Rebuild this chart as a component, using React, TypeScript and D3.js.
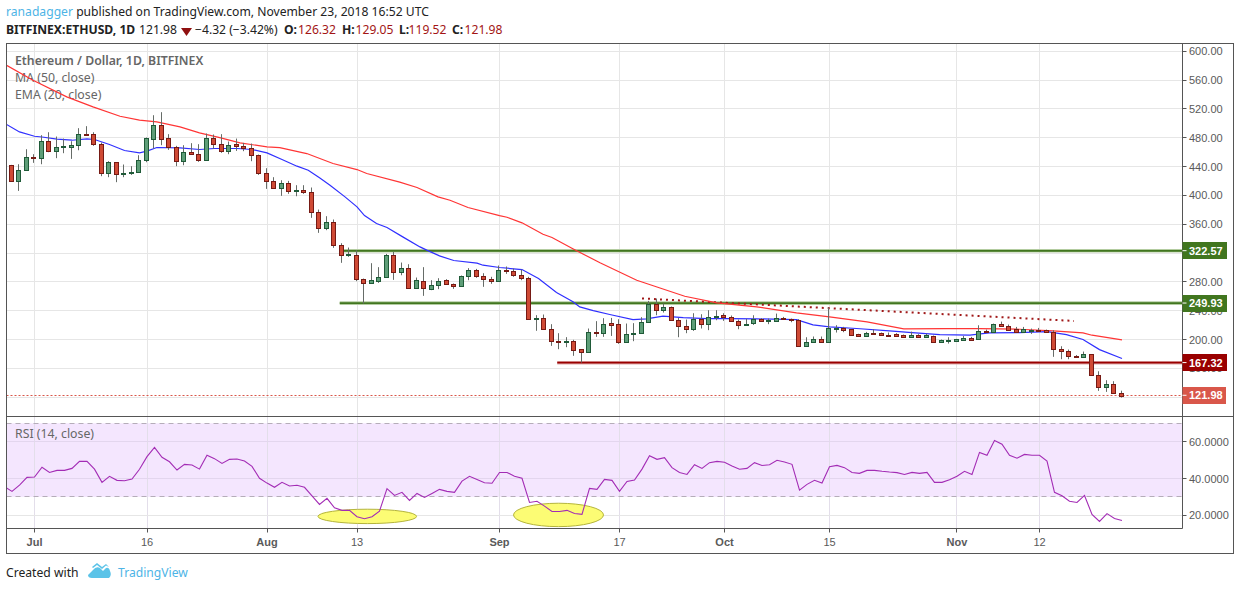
import React from "react";
import * as d3 from "d3";

const opens = [441.8,420.1,435.4,453.9,452,476,461.7,467.3,467.3,470.1,485.8,485.8,471.9,431.2,445.6,430.3,431.7,432.6,449.2,478.4,498.3,478.9,467.7,447.9,460.8,458,449.2,478.9,471.9,461.7,471,469.1,466.4,456.6,431.7,420.6,410.4,417.8,406.7,408.1,405.3,377.6,354.9,363.7,331.8,317.4,317.9,284.6,279.1,281.4,287.4,317.9,294.3,299.9,270.8,281.4,270.3,275.9,281.9,277.7,274.5,288.8,295.8,288.8,284.6,281.4,296.2,295.3,290.2,286,228.7,230.5,215.3,197.7,196.8,198.6,186.2,182.9,211.1,209.2,222.6,221.3,196.3,207.9,209.2,224,249,241.1,245.8,227.7,219.4,214.3,229.1,221.7,231.4,233.7,231.9,226.3,220.3,223.1,229.1,225.9,225.9,230.5,229.1,227.3,191.2,196.8,201.4,196.3,214.3,215.7,214.3,207.4,205.5,208.8,208.8,206.9,207.4,206,204.1,206.4,204.1,205.5,196.7,198.6,198.1,199.5,202.3,200.4,212.4,210.6,221.2,219.4,214.3,211,212,213.4,213.8,211,187.5,184.7,177.8,175.9,179.6,151,134.8,139,126.32];
const highs = [442.3,443.2,464,457.1,483.5,487.6,481.6,478.8,475.1,493.2,496,487.6,473.3,447.4,445.6,442.8,440.5,455.7,480.2,511.2,515.4,484.9,468.7,469.6,472.4,471,485.8,484.4,484.9,474.7,478.8,472.8,471.9,456.6,437.7,425.2,421,420.1,414.1,414.1,410.9,380.3,371.1,366.5,333.6,327.6,323.9,284.6,305.9,300.4,318.8,321.6,306.8,304.5,286,300.4,282.3,285.1,283.7,277.7,288.8,299,298,292,287,302.7,301.3,298.5,297,287,233.8,234.7,221.3,208.8,203.3,199.6,186.2,215.3,225.5,229.6,230,228.2,222.2,222.7,231,253.6,256.9,250,245.8,230,227.7,236.5,235.1,240.7,240.7,236.5,233.3,227.7,228.7,233.7,229.6,229.1,236,231.4,229.1,228.2,203.2,204.2,204.2,244.4,219.9,217.6,214.3,208,210.6,214.3,209.7,209.7,208.8,206.9,211,207.4,208,205.5,200,203.2,200.9,205,203.7,219.8,213.8,222.1,224.9,220.8,217.5,217.5,215.2,216.1,213.8,212.9,190.7,186.1,178.5,183.3,179.6,156,143.6,142.2,129.05];
const lows = [418.7,406.2,435.4,445.1,443.2,459.9,451.6,458.5,450.6,462.6,483,468.7,426.6,425.2,418.3,425.2,428.4,432.6,446,465,469.6,463.1,440.5,441.8,456.2,446.5,449.2,464.5,459,457.1,461.7,461.3,447.4,428.4,409,409,399.3,402.1,398.8,402.1,368.8,348,351.7,327.2,306.4,314.7,281,250,279.1,278.6,287.4,282.8,289.2,270.8,270.8,260.6,268.5,269.9,276.8,270.3,273.1,282.3,285.6,273.1,277.3,281.4,291.1,287,282.3,227.3,212.1,215.3,191.2,186.6,189.4,177.4,168,182.9,203.7,203.7,205,194,196.3,197.7,209.2,223.1,233.7,237.4,225.9,203.2,208.8,212,215.3,213,226.8,225.9,225,214.3,220.3,220.3,224.5,221.3,225.9,227.3,224,189.8,191.2,196.8,195.4,196.3,209.7,210.2,205,204,204.6,207.9,206.5,203.7,204.6,203.2,204.1,203.2,203.2,196.7,196.7,194.4,198.1,199,198.6,200.4,209.2,210.6,218.9,212.9,210.6,209.7,207.8,210.6,210.6,176,172.7,172.7,175.5,175.9,149.6,128.8,127.4,126.4,119.52];
const closes = [420.1,435.8,453.9,452,476,461.7,467.7,468.2,470.5,485.8,484.9,471.4,431.7,445.6,429.8,431.7,433,449.7,478.9,498.3,478.4,467.3,447.9,460.8,457.6,449.2,478.9,471.4,461.7,470.5,468.7,465.9,456.2,431.7,420.1,410.4,417.8,406.7,408.1,404.8,377.6,354.9,363.7,331.8,317.9,318.4,284.6,279.1,281.9,287.4,317.9,294.3,299.9,270.8,281.9,270.8,276.3,281.4,277.7,274.9,288.8,295.8,288.8,284.2,281.4,295.8,295.3,290.2,285.6,228.7,230.5,215.3,197.3,196.8,197.7,185.7,182.9,211.1,209.3,222.2,220.8,196.3,208.3,209.7,225,249,241.1,245.8,226.8,218.9,214.3,229.1,221.7,231.9,233.3,231.4,225.9,220.3,222.2,229.1,225.9,227.3,230.5,228.2,227.3,191.2,197.2,201.4,196.3,215.7,215.7,213.4,206.9,205,208.8,207.9,206.5,206,205.5,204.1,206.4,204.1,206.4,196.7,199,200,200.4,202.7,200,212.4,210.6,221.2,218.9,213.8,211,214.3,212.9,212.4,211,187,184.7,177.3,175.9,179.6,151,134.8,139,126.4,121.98];
// rsiValues[0] is the value one day before the first candle, running in from the left edge
const rsiValues = [35.5,33,36.4,40.6,40.8,46.1,43.3,44.4,44.4,45.5,49.3,49.3,45.1,37.9,41.2,39,38.8,39.7,45,51.9,56.9,51.5,49.1,44.6,47.7,47.3,45.1,52.6,50.8,48.2,50.4,50.6,49.5,46.6,40.1,37.5,35.2,37.9,35.9,36.3,35.2,30.5,25.9,29.2,24.1,22.7,22.7,19.2,18.1,19.2,22.3,34.5,30.8,32.5,28.1,31.9,29.7,31.9,34.1,33,32.5,38.6,41.2,39.5,37.7,37.4,43.3,43.3,41.2,40.1,27,27.6,25,22.1,22.1,22.7,21,20.5,34.6,34.1,39.5,39,33,38.4,39.2,45.1,52.4,50.4,51.3,45.9,43.3,42.2,47.5,45.5,48.6,49.3,48.8,46.8,45,45.5,48.6,47.1,47.5,49.9,49,47.7,33.7,36.8,39,37.5,46.4,47.1,45.9,43.3,42.8,44.4,44.4,43.9,43.5,43.2,42.2,43.3,42.8,43.3,37.9,37.9,39.3,41.2,43.9,42.2,54.2,52.6,60.7,58.6,52.6,51,53.1,52.6,52.6,49.5,32.5,30.6,27.6,27,30.8,20.5,16.7,20.9,18.3,17.2];

const maDays = [0,3.8,8.3,11.8,15.4,18,20.3,23.4,26,28.7,31.4,35,36.7,40.3,43.8,47,48.3,52.7,55,57.8,59.4,61.8,66,67,69,71.8,73,75.9,79.4,84.3,90.7,95,100.3,105.6,110,115,119.9,125.6,130,135.3,139.8,143.8,145,149];
const maValues = [582,559.8,536.6,522.8,509.8,504.3,502,495,486.7,480.2,472.8,467.3,466.3,458,444.2,435.8,430.3,418.3,410.9,397.9,393.3,383.1,372,369.7,361.9,346.1,341.5,325.3,306.4,282.3,260,250.9,245.3,237,231.4,224.5,214.8,215.2,215.2,214.3,212,209.2,206,199.5];
const emaDays = [0,2,4,5,7,9,11,12,14,16,18,19,20.3,23.4,26,28,31,33,35,37,39,40.5,42,43.4,45.4,47,48,49.6,51,53.1,55.4,56.3,58,59.9,63,63.8,66,69,71.2,73.6,75.8,76.7,78.5,80.7,83.8,85.6,87.8,90.5,93.6,96.7,100.3,105.6,107.8,110,113.6,118,121,124.7,128.7,131.3,135.3,139,141.6,143.8,146,149];
const emaValues = [500,488,482,481,478,476.5,478.4,477.5,470.5,462.2,459,461.3,466.4,466,463.6,465,465,463.6,459,449.8,440.5,434.9,424.3,414.1,397.9,384,372,361,355.4,342.4,328.5,324,316,309.6,306,303.1,299.9,297.1,284.6,265.2,252.3,245.3,240,234.7,227.7,228.7,232.4,230.5,229.1,229.1,228.7,227.7,220.3,217.6,215.3,212,209.7,206.9,206,209.2,209.7,211,206.9,200,186,173.6];

const priceTicks = [600,560,520,480,440,400,360,320,280,240,200,160,120];
const rsiTicks = [60,40,20];
const rsiBand = [70,30];
const timeTicks: [number, string, boolean][] = [[4,"Jul",true],[19,"16",false],[35,"Aug",true],[47,"13",false],[66,"Sep",true],[82,"17",false],[96,"Oct",true],[110,"15",false],[127,"Nov",true],[138,"12",false]];

const levelPrices = [322.57,249.93,167.32];
const levelStarts = [45.1,44.7,73.7];
const levelStrokes = ["#41761f","#41761f","#990000"];
const levelHalos = ["#b3cca0","#b3cca0","#e0aaaa"];
const trendDays = [85,142.6];
const trendPrices = [257,225.8];
const lastPrice = 121.98;
const rsiOvals = [{ day: 48.37, rsi: 19.4, rx: 49.3, ry: 7.2 },{ day: 73.87, rsi: 20.2, rx: 45, ry: 11.7 }];

const axisFont = "'Liberation Sans', Arial, sans-serif";
const uiFont = "'Noto Sans', sans-serif";

export default function App() {
  const x = d3.scaleLinear().domain([1, 149]).range([12, 1122]);
  const y = d3.scaleLinear().domain([120, 600]).range([397.2, 51.2]);
  const r = d3.scaleLinear().domain([20, 60]).range([515.3, 441.7]);
  const L = 6.5, RX = 1182.5, OUT = 1233.5, T = 43.5, PB = 416.5, RB = 528.5, B = 553.5;
  const snap = (v: number) => Math.floor(v) + 0.5;
  const maLine = d3.line<number>().x((_, i) => x(maDays[i])).y(d => y(d));
  const emaLine = d3.line<number>().x((_, i) => x(emaDays[i])).y(d => y(d));
  const rsiLine = d3.line<number>().x((_, i) => x(i)).y(d => r(d));
  const fmt = d3.format(".2f");
  const fmtR = d3.format(".4f");
  const hdr = { fontFamily: uiFont, fontSize: 12.15 } as const;
  const red = "#a31515";
  return (
    <svg width={1240} height={590} style={{ position: "absolute", left: 0, top: 0, display: "block", background: "#fff" }}>
      <defs>
        <clipPath id="pricePane"><rect x={L} y={T} width={RX - L} height={PB - T} /></clipPath>
        <clipPath id="rsiPane"><rect x={L} y={PB} width={RX - L} height={RB - PB} /></clipPath>
      </defs>

      {/* header */}
      <text x={6} y={16} {...hdr}><tspan fill="#4db4e6">ranadagger</tspan><tspan fill="#222"> published on TradingView.com, November 23, 2018 16:52 UTC</tspan></text>
      <text x={6} y={34} {...hdr} fontWeight={700} fill="#222">BITFINEX:ETHUSD, 1D</text>
      <text x={139} y={34} {...hdr} fill="#222">121.98</text>
      <path d="M181 28 L192 28 L186.5 36 Z" fill="#8f1010" />
      <text x={195} y={34} {...hdr} fill="#222">−4.32 (−3.42%)</text>
      <text x={284} y={34} {...hdr} fontWeight={700} fill="#222">O:</text>
      <text x={298} y={34} {...hdr} fill={red}>126.32</text>
      <text x={342} y={34} {...hdr} fontWeight={700} fill="#222">H:</text>
      <text x={355.5} y={34} {...hdr} fill={red}>129.05</text>
      <text x={399} y={34} {...hdr} fontWeight={700} fill="#222">L:</text>
      <text x={408.5} y={34} {...hdr} fill={red}>119.52</text>
      <text x={452} y={34} {...hdr} fontWeight={700} fill="#222">C:</text>
      <text x={464.5} y={34} {...hdr} fill={red}>121.98</text>

      {/* rsi band */}
      <rect x={L} y={r(rsiBand[0])} width={RX - L} height={r(rsiBand[1]) - r(rsiBand[0])} fill="#f4e6fe" />

      {/* grid */}
      {timeTicks.map(([d]) => (
        <g key={d}>
          <line x1={snap(x(d))} x2={snap(x(d))} y1={T} y2={PB} stroke="#e6e6e6" />
          <line x1={snap(x(d))} x2={snap(x(d))} y1={PB} y2={RB} stroke="#e3deea" />
        </g>
      ))}
      {priceTicks.map(p => (
        <line key={p} x1={L} x2={RX} y1={snap(y(p))} y2={snap(y(p))} stroke="#e6e6e6" />
      ))}
      {rsiTicks.map(v => (
        <line key={v} x1={L} x2={RX} y1={snap(r(v))} y2={snap(r(v))} stroke={v === 20 ? "#e6e6e6" : "#e3d6ee"} />
      ))}
      {rsiBand.map(v => (
        <line key={v} x1={L} x2={RX} y1={snap(r(v))} y2={snap(r(v))} stroke="#b5adb9" strokeDasharray="5 4" />
      ))}

      {/* legend */}
      <g fontFamily={uiFont} fill="#666" fontSize={12.3}>
        <text x={15} y={65} fontWeight={600}>Ethereum / Dollar, 1D, BITFINEX</text>
        <text x={15} y={82}>MA (50, close)</text>
        <text x={15} y={99}>EMA (20, close)</text>
        <text x={15} y={438}>RSI (14, close)</text>
      </g>

      {/* price pane */}
      <g clipPath="url(#pricePane)">
        <line x1={L} x2={RX} y1={snap(y(lastPrice))} y2={snap(y(lastPrice))} stroke="#d9574a" strokeDasharray="2 2" />
        {levelPrices.map((p, i) => (
          <g key={p}>
            <line x1={x(levelStarts[i])} x2={RX} y1={y(p) - 0.4} y2={y(p) - 0.4} stroke={levelHalos[i]} strokeWidth={3.6} />
            <line x1={x(levelStarts[i])} x2={RX} y1={y(p) - 0.4} y2={y(p) - 0.4} stroke={levelStrokes[i]} strokeWidth={1.8} />
          </g>
        ))}
        <line x1={x(trendDays[0])} x2={x(trendDays[1])} y1={y(trendPrices[0])} y2={y(trendPrices[1])} stroke="#a01818" strokeWidth={2} strokeDasharray="2 4" />
        <path d={maLine(maValues) ?? ""} fill="none" stroke="#ff3535" strokeWidth={1.2} />
        <path d={emaLine(emaValues) ?? ""} fill="none" stroke="#3030ff" strokeWidth={1.2} />
        {closes.map((c, i) => {
          const o = opens[i], up = c >= o;
          const cx = Math.floor(x(i + 1) - 0.75);
          const top = Math.round(y(Math.max(o, c)));
          const bot = Math.max(top + 1, Math.round(y(Math.min(o, c))));
          return (
            <g key={i}>
              <line x1={cx + 0.5} x2={cx + 0.5} y1={y(highs[i])} y2={y(lows[i])} stroke="#666c68" />
              <rect x={cx - 1.5} y={top + 0.5} width={4} height={bot - top} fill={up ? "#5e9e78" : "#cf4a35"} stroke={up ? "#1f5a38" : "#761a14"} />
            </g>
          );
        })}
      </g>

      {/* rsi pane */}
      <g clipPath="url(#rsiPane)">
        {rsiOvals.map((o, i) => (
          <ellipse key={i} cx={x(o.day)} cy={r(o.rsi)} rx={o.rx} ry={o.ry} fill="#fcfc74" stroke="#b4b43c" />
        ))}
        <path d={rsiLine(rsiValues) ?? ""} fill="none" stroke="#a32cb5" strokeWidth={1.1} />
      </g>

      {/* frames */}
      <rect x={L} y={T} width={OUT - L} height={B - T} fill="none" stroke="#555" />
      <line x1={L} x2={OUT} y1={PB} y2={PB} stroke="#555" />
      <line x1={L} x2={RX} y1={RB} y2={RB} stroke="#555" />
      <line x1={RX} x2={RX} y1={T} y2={RB} stroke="#555" />

      {/* price axis */}
      <g fontFamily={axisFont} fontSize={11} fill="#5a5a5a">
        {priceTicks.map(p => (
          <g key={p}>
            <line x1={RX} x2={RX + 4} y1={snap(y(p))} y2={snap(y(p))} stroke="#555" />
            <text x={1189} y={y(p) + 4}>{fmt(p)}</text>
          </g>
        ))}
        {rsiTicks.map(v => (
          <g key={v}>
            <line x1={RX} x2={RX + 4} y1={snap(r(v))} y2={snap(r(v))} stroke="#555" />
            <text x={1189} y={r(v) + 4}>{fmtR(v)}</text>
          </g>
        ))}
      </g>
      {levelPrices.map((p, i) => (
        <g key={p}>
          <rect x={RX} y={Math.round(y(p)) - 9} width={44.5} height={17} fill={levelStrokes[i]} />
          <line x1={RX} x2={RX + 4} y1={y(p) - 0.5} y2={y(p) - 0.5} stroke="#fff" />
          <text x={1189} y={y(p) + 3.5} fontFamily={axisFont} fontSize={11} fontWeight={700} fill="#fff">{fmt(p)}</text>
        </g>
      ))}
      <rect x={RX} y={Math.round(y(lastPrice)) - 9} width={43.5} height={17} fill="#d9574a" />
      <line x1={RX} x2={RX + 4} y1={y(lastPrice) - 0.5} y2={y(lastPrice) - 0.5} stroke="#fff" />
      <text x={1189} y={y(lastPrice) + 3.5} fontFamily={axisFont} fontSize={11} fontWeight={700} fill="#fff">{fmt(lastPrice)}</text>

      {/* time axis */}
      <g fontFamily={axisFont} fontSize={11} fill="#5a5a5a" textAnchor="middle">
        {timeTicks.map(([d, label, bold]) => (
          <g key={d}>
            <line x1={snap(x(d))} x2={snap(x(d))} y1={RB} y2={RB + 4} stroke="#555" />
            <text x={x(d)} y={546} fontWeight={bold ? 700 : 400}>{label}</text>
          </g>
        ))}
      </g>

      {/* footer */}
      <text x={6} y={577} {...hdr} fill="#222">Created with</text>
      <g fill="#5bc3e8">
        <path d="M88 575 L93 570 Q96 566 100 568 L103 571 L106 568 Q109 567 110 571 Q112 575 109 578 L92 578 Q88 578 88 575 Z" />
        <path d="M92 567 L97 563 L102 567 L106 564 L109 567 L106 565.5 L102 569 L97 565 L93 568 Z" />
      </g>
      <text x={118} y={577} {...hdr} fill="#4db4e6">TradingView</text>
    </svg>
  );
}
